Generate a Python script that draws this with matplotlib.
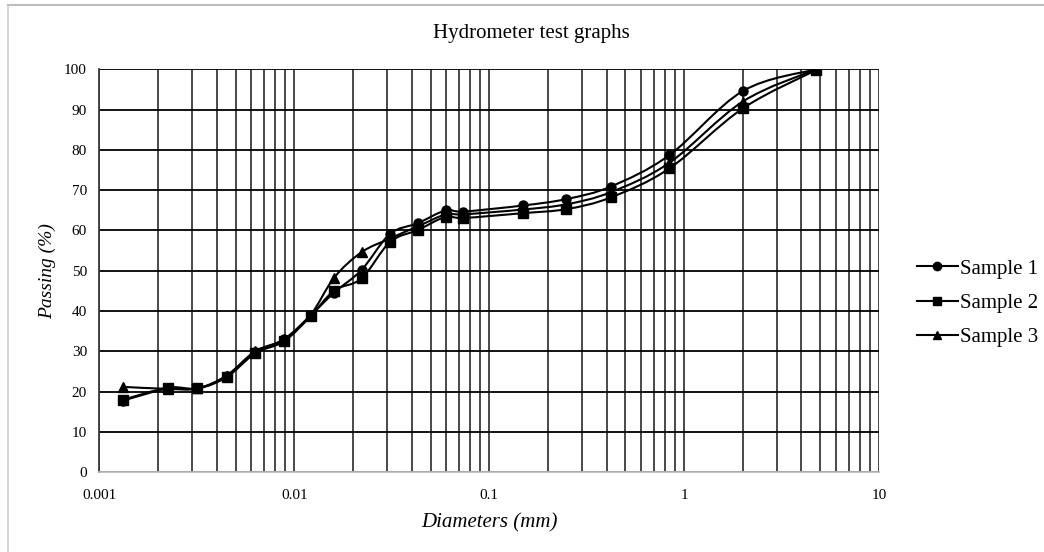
import numpy as np
import matplotlib.pyplot as plt
from matplotlib.path import Path
from matplotlib.patches import PathPatch
from matplotlib.lines import Line2D

plt.rcParams['font.family'] = ['Liberation Serif', 'DejaVu Serif']

# particle diameters (mm) and percent passing for each sample
diameters = [0.00132, 0.00225, 0.00318, 0.00449, 0.00628, 0.00885, 0.0121, 0.016,
             0.0221, 0.0309, 0.0429, 0.0597, 0.0736, 0.149, 0.249, 0.42, 0.84, 2.0, 4.75]
sample1 = [17.8, 20.8, 20.8, 23.9, 29.8, 33.0, 38.9, 44.6, 50.2, 59.1, 61.8, 65.0,
           64.7, 66.2, 67.8, 70.9, 78.7, 94.6, 100.0]
sample2 = [18.0, 21.0, 20.8, 23.6, 29.5, 32.5, 38.7, 45.1, 48.1, 57.1, 60.1, 63.4,
           63.1, 64.3, 65.3, 68.2, 75.4, 90.3, 99.8]
sample3 = [21.2, 20.7, 20.8, 24.0, 30.0, 33.0, 39.0, 48.3, 54.6, 58.0, 61.0, 64.0,
           64.0, 65.2, 66.5, 69.5, 76.8, 92.0, 100.0]

labels = ['Sample 1', 'Sample 2', 'Sample 3']
markers = ['o', 's', '^']


def smooth_path(x, y):
    # Bezier segments through the points, control points in log-x space
    lx = np.log10(x)
    y = np.asarray(y, float)
    n = len(lx)
    verts = [(x[0], y[0])]
    codes = [Path.MOVETO]
    for i in range(n - 1):
        p0 = np.array([lx[max(i - 1, 0)], y[max(i - 1, 0)]])
        p1 = np.array([lx[i], y[i]])
        p2 = np.array([lx[i + 1], y[i + 1]])
        p3 = np.array([lx[min(i + 2, n - 1)], y[min(i + 2, n - 1)]])
        c1 = p1 + (p2 - p0) / 6
        c2 = p2 - (p3 - p1) / 6
        for c in (c1, c2, p2):
            verts.append((10 ** c[0], c[1]))
        codes += [Path.CURVE4] * 3
    return Path(verts, codes)


fig = plt.figure(figsize=(10.44, 5.52), dpi=100)
ax = fig.add_axes([0.0953, 0.1444, 0.7467, 0.7301])
ax.set_xscale('log')
ax.set_xlim(0.001, 10)
ax.set_ylim(0, 100)

for vals, lab, m in zip([sample1, sample2, sample3], labels, markers):
    patch = PathPatch(smooth_path(diameters, vals), facecolor='none',
                      edgecolor='black', lw=1.5, zorder=3)
    ax.add_patch(patch)
    ax.plot(diameters, vals, linestyle='none', marker=m, color='black',
            markersize=6.5, zorder=4)
    ax.plot([], [], color='black', lw=1.5, marker=m, markersize=6, label=lab)

ax.set_yticks(np.arange(0, 101, 10))
ax.set_xticks([0.001, 0.01, 0.1, 1, 10])
ax.set_xticklabels(['0.001', '0.01', '0.1', '1', '10'])
ax.xaxis.set_minor_locator(plt.LogLocator(base=10, subs=np.arange(2, 10)))
ax.xaxis.set_minor_formatter(plt.NullFormatter())
ax.grid(True, which='both', axis='x', color='#3a3a3a', lw=1.3)
ax.grid(True, which='major', axis='y', color='black', lw=1.3)
ax.tick_params(which='both', length=0, labelsize=11)
ax.tick_params(axis='x', pad=12)
ax.tick_params(axis='y', pad=9)

for side in ['top', 'right']:
    ax.spines[side].set_visible(False)
ax.spines['left'].set_color('#3a3a3a')
ax.spines['left'].set_linewidth(1.3)
ax.spines['bottom'].set_color('#bbbbbb')
ax.spines['bottom'].set_linewidth(1.3)

fig.text(0.509, 0.94, 'Hydrometer test graphs', fontsize=15,
         ha='center', va='center')
ax.set_xlabel('Diameters (mm)', fontsize=15, style='italic', labelpad=8)
ax.set_ylabel('Passing (%)', fontsize=14, style='italic', labelpad=6)

ax.legend(loc='center left', bbox_to_anchor=(1.024, 0.42), frameon=False,
          fontsize=15, handlelength=2.0, handletextpad=0.1, labelspacing=0.7)

# light frame around the chart
fig.add_artist(Line2D([0.008, 0.008], [0, 0.991], color='#d0d0d0', lw=1.2))
fig.add_artist(Line2D([0.008, 1], [0.991, 0.991], color='#bdbdbd', lw=1.5))

fig.savefig('out.png', dpi=100)
